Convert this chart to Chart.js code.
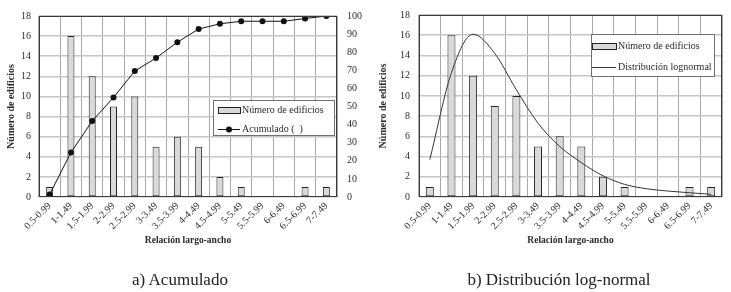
<!DOCTYPE html>
<html>
<head>
<meta charset="utf-8">
<script src="https://cdn.jsdelivr.net/npm/chart.js@4.4.1/dist/chart.umd.min.js"></script>
<style>
    body { margin: 0; background: #fff; }
    #wrap { position: relative; width: 731px; height: 292px; overflow: hidden; }
    .panel { position: absolute; top: 0; height: 292px; }
    .caption {
        position: absolute; top: 270px; line-height: 20px;
        font-family: "Liberation Serif", serif; font-size: 17px; color: #222;
        white-space: nowrap; transform: translateX(-50%);
    }
</style>
</head>
<body>
<div id="wrap">
    <div class="panel" style="left:0;width:365px"><canvas id="acumChart" width="365" height="292"></canvas></div>
    <div class="panel" style="left:365px;width:366px"><canvas id="lognChart" width="366" height="292"></canvas></div>
    <div class="caption" style="left:180px">a) Acumulado</div>
    <div class="caption" style="left:559px">b) Distribución log-normal</div>
</div>
<script>
// Data
const categories = ["0.5-0.99", "1-1.49", "1.5-1.99", "2-2.99", "2.5-2.99", "3-3.49", "3.5-3.99",
    "4-4.49", "4.5-4.99", "5-5.49", "5.5-5.99", "6-6.49", "6.5-6.99", "7-7.49"];
const buildings = [1, 16, 12, 9, 10, 5, 6, 5, 2, 1, 0, 0, 1, 1];
const cumulative = [1.4, 24.6, 42, 55, 69.6, 76.8, 85.5, 92.8, 95.7, 97.1, 97.1, 97.1, 98.6, 100];
const lognormal = [3.7, 12.3, 16.1, 14.2, 10.6, 7.3, 5.0, 3.4, 2.1, 1.25, 0.82, 0.59, 0.42, 0.27];
const countTicks = { min: 0, max: 18, step: 2 };
const percentTicks = { min: 0, max: 100, step: 10 };

const serif = "'Liberation Serif', 'Times New Roman', serif";
const tickFont = { family: serif, size: 10 };
const titleFont = { family: serif, size: 9.5, weight: "bold" };
const textColor = "#2a2a2a";

// Draws the plot frame and a legend box placed inside the plot area
const frameAndLegend = {
    id: "frameAndLegend",
    afterDatasetsDraw(chart, args, opts) {
        const { ctx, chartArea: a } = chart;
        ctx.save();
        ctx.lineWidth = 1;
        ctx.strokeStyle = "#3a3a3a";
        ctx.strokeRect(Math.round(a.left) + 0.5, Math.round(a.top) + 0.5,
            Math.round(a.right - a.left) - 1, Math.round(a.bottom - a.top) - 1);

        const bx = Math.round(a.right - opts.right - opts.width);
        const by = Math.round(a.top + opts.top);
        ctx.fillStyle = "#fff";
        ctx.fillRect(bx, by, opts.width, opts.height);
        ctx.strokeStyle = "#707070";
        ctx.strokeRect(bx + 0.5, by + 0.5, opts.width, opts.height);

        ctx.font = "10px " + serif;
        ctx.textBaseline = "middle";
        chart.data.datasets.forEach((ds, i) => {
            const y = by + opts.rows[i];
            const sx = bx + opts.symbolX;
            if (ds.type === "line") {
                ctx.strokeStyle = ds.borderColor;
                ctx.beginPath();
                ctx.moveTo(sx, y + 0.5);
                ctx.lineTo(sx + opts.symbolW, y + 0.5);
                ctx.stroke();
                if (ds.pointRadius > 0) {
                    ctx.fillStyle = ds.pointBackgroundColor;
                    ctx.beginPath();
                    ctx.arc(sx + opts.symbolW / 2, y + 0.5, ds.pointRadius, 0, Math.PI * 2);
                    ctx.fill();
                }
            } else {
                ctx.fillStyle = ds.backgroundColor;
                ctx.fillRect(sx, y - 3, opts.symbolW, 6);
                ctx.strokeStyle = ds.borderColor;
                ctx.strokeRect(sx + 0.5, y - 2.5, opts.symbolW, 6);
            }
            ctx.fillStyle = textColor;
            ctx.fillText(ds.label, sx + opts.symbolW + 2, y);
        });
        ctx.restore();
    },
};

function xScale() {
    return {
        grid: { color: "#a8a8a8", lineWidth: 1, drawTicks: false, offset: true },
        border: { display: false },
        ticks: { font: tickFont, color: textColor, minRotation: 45, maxRotation: 45, autoSkip: false, padding: 3 },
        title: { display: true, text: "Relación largo-ancho", font: titleFont, color: textColor, padding: { top: 4, bottom: 4 } },
        afterFit: (s) => { s.height = 53; },
    };
}

function countScale(width, titlePad, tickPad) {
    return {
        position: "left",
        min: countTicks.min,
        max: countTicks.max,
        ticks: { stepSize: countTicks.step, font: tickFont, color: textColor, padding: tickPad },
        grid: { color: "#c6c6c6", lineWidth: 1.5, drawTicks: false },
        border: { display: false },
        title: { display: true, text: "Número de edificios", font: { family: serif, size: 10, weight: "bold" }, color: textColor, padding: { top: titlePad, bottom: 0 } },
        afterFit: (s) => { s.width = width; },
    };
}

const barStyle = {
    backgroundColor: "#d9d9d9",
    borderColor: "#222",
    borderWidth: 1,
    borderSkipped: false,
};

document.addEventListener("DOMContentLoaded", () => {
    // a) Acumulado
    new Chart(document.getElementById("acumChart"), {
        type: "bar",
        data: {
            labels: categories,
            datasets: [
                {
                    type: "bar",
                    label: "Número de edificios",
                    data: buildings,
                    yAxisID: "y",
                    order: 1,
                    barPercentage: 0.4,
                    categoryPercentage: 0.82,
                    ...barStyle,
                },
                {
                    type: "line",
                    label: "Acumulado (  )",
                    data: cumulative,
                    yAxisID: "y1",
                    order: 0,
                    borderColor: "#111",
                    borderWidth: 1,
                    pointRadius: 3,
                    pointBackgroundColor: "#111",
                    pointBorderWidth: 0,
                    tension: 0,
                },
            ],
        },
        options: {
            responsive: false,
            animation: false,
            layout: { padding: { top: 13, bottom: 42, left: 0, right: 0 } },
            scales: {
                x: xScale(),
                y: countScale(39, 5, 8),
                y1: {
                    position: "right",
                    min: percentTicks.min,
                    max: percentTicks.max,
                    ticks: { stepSize: percentTicks.step, font: tickFont, color: textColor, padding: 10 },
                    grid: { display: false, drawTicks: false },
                    border: { display: false },
                    afterFit: (s) => { s.width = 28; },
                },
            },
            plugins: {
                legend: { display: false },
                tooltip: { enabled: false },
                frameAndLegend: { right: 3, top: 84, width: 121, height: 35, rows: [10, 29], symbolX: 5, symbolW: 22 },
            },
        },
        plugins: [frameAndLegend],
    });

    // b) Distribución log-normal
    new Chart(document.getElementById("lognChart"), {
        type: "bar",
        data: {
            labels: categories,
            datasets: [
                {
                    type: "bar",
                    label: "Número de edificios",
                    data: buildings,
                    order: 1,
                    barPercentage: 0.45,
                    categoryPercentage: 0.82,
                    ...barStyle,
                },
                {
                    type: "line",
                    label: "Distribución lognormal",
                    data: lognormal,
                    order: 0,
                    borderColor: "#333",
                    borderWidth: 1,
                    pointRadius: 0,
                    cubicInterpolationMode: "monotone",
                },
            ],
        },
        options: {
            responsive: false,
            animation: false,
            layout: { padding: { top: 13, bottom: 42, left: 0, right: 9 } },
            scales: {
                x: xScale(),
                y: countScale(54, 12, 9),
            },
            plugins: {
                legend: { display: false },
                tooltip: { enabled: false },
                frameAndLegend: { right: 8, top: 19, width: 123, height: 42, rows: [12, 33], symbolX: 1, symbolW: 24 },
            },
        },
        plugins: [frameAndLegend],
    });
});
</script>
</body>
</html>
